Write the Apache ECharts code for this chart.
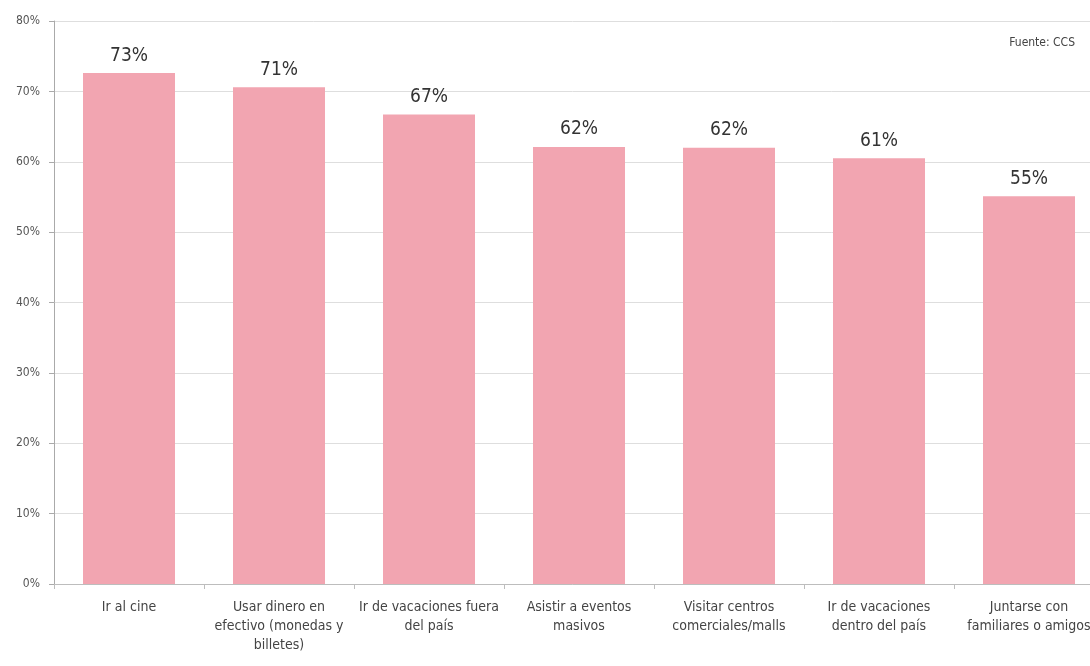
<!DOCTYPE html>
<html lang="es">

<head>
  <meta charset="UTF-8">
  <title>Actividades</title>
  <script src="https://cdn.jsdelivr.net/npm/echarts@6/dist/echarts.min.js"></script>
  <style>
    html, body { margin: 0; padding: 0; background: #fff; }
  </style>
</head>

<body>
  <div id="main" style="width:1090px;height:666px;"></div>
</body>
<script>
  let categories = [
    'Ir al cine',
    'Usar dinero en\nefectivo (monedas y\nbilletes)',
    'Ir de vacaciones fuera\ndel país',
    'Asistir a eventos\nmasivos',
    'Visitar centros\ncomerciales/malls',
    'Ir de vacaciones\ndentro del país',
    'Juntarse con\nfamiliares o amigos'
  ]
  let values = [72.6, 70.6, 66.7, 62.1, 62.0, 60.5, 55.1]
  let fontName = '"Liberation Sans Narrow", "DejaVu Sans Condensed", sans-serif'

  initChart()

  function initChart() {
    let myChart = echarts.init(document.getElementById('main'));
    let option = {
      animation: false,
      grid: {
        left: 54,
        width: 1050,
        top: 21,
        bottom: 82,
        outerBoundsMode: 'none'
      },
      graphic: [{
        type: 'text',
        right: 15,
        top: 37,
        style: {
          text: 'Fuente: CCS',
          fill: '#444',
          font: '12px ' + fontName
        }
      }],
      xAxis: {
        type: 'category',
        data: categories,
        axisLine: { lineStyle: { color: '#bdbdbd' } },
        axisTick: { show: true, length: 5, lineStyle: { color: '#bdbdbd' } },
        axisLabel: {
          interval: 0,
          color: '#444',
          fontSize: 14,
          fontFamily: fontName,
          lineHeight: 19,
          margin: 14
        }
      },
      yAxis: {
        type: 'value',
        min: 0,
        max: 80,
        interval: 10,
        axisLine: { show: true, lineStyle: { color: '#aaa' } },
        axisTick: { show: true, length: 5, lineStyle: { color: '#aaa' } },
        splitLine: { lineStyle: { color: '#dedede' } },
        axisLabel: {
          formatter: '{value}%',
          color: '#555',
          fontSize: 12,
          fontFamily: fontName,
          margin: 14
        }
      },
      series: [{
        type: 'bar',
        data: values,
        barWidth: 92,
        itemStyle: { color: '#f2a5b1' },
        label: {
          show: true,
          position: 'top',
          distance: 8,
          color: '#333',
          fontSize: 19,
          fontFamily: fontName,
          formatter: function (p) {
            return Math.round(p.value) + '%'
          }
        }
      }]
    }
    myChart.setOption(option);
  }
</script>

</html>
